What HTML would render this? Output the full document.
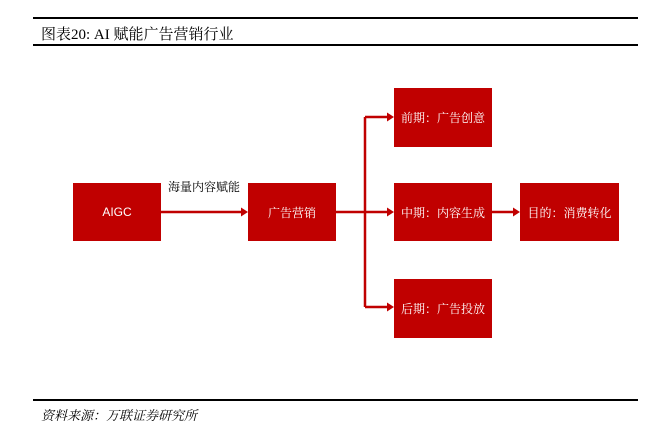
<!DOCTYPE html>
<html><head><meta charset="utf-8"><style>
body{margin:0;width:655px;height:441px;background:#fff;position:relative;overflow:hidden;font-family:"Liberation Serif","Noto Serif CJK SC",serif}
.l{position:absolute;left:33px;width:605px;background:#000}
.b{position:absolute;background:#c00000;color:#fff;display:flex;align-items:center;justify-content:center;font-size:12px;font-family:"Liberation Sans","Noto Serif CJK SC",sans-serif}
.t{position:absolute;white-space:nowrap}
</style></head><body>
<div class="l" style="top:17px;height:2px"></div>
<div class="t" style="left:41px;top:23px;font-size:15px">图表20: AI 赋能广告营销行业</div>
<div class="l" style="top:44px;height:2px"></div>
<svg style="position:absolute;left:0;top:0" width="655" height="441">
<g stroke="#c00000" stroke-width="2.5" fill="none">
<line x1="161" y1="212" x2="242" y2="212"/>
<line x1="336" y1="212" x2="388" y2="212"/>
<line x1="365" y1="117" x2="365" y2="307"/>
<line x1="365" y1="117" x2="388" y2="117"/>
<line x1="365" y1="307" x2="388" y2="307"/>
<line x1="492" y1="212" x2="514" y2="212"/>
</g>
<g fill="#c00000">
<polygon points="248,212 241,207.5 241,216.5"/>
<polygon points="394,212 387,207.5 387,216.5"/>
<polygon points="394,117 387,112.5 387,121.5"/>
<polygon points="394,307 387,302.5 387,311.5"/>
<polygon points="520,212 513,207.5 513,216.5"/>
</g>
</svg>
<div class="b" style="left:73px;top:183px;width:88px;height:58px">AIGC</div>
<div class="t" style="left:168px;top:178px;font-size:12px;font-family:'Liberation Sans','Noto Serif CJK SC',sans-serif">海量内容赋能</div>
<div class="b" style="left:248px;top:183px;width:88px;height:58px">广告营销</div>
<div class="b" style="left:394px;top:88px;width:98px;height:59px">前期：广告创意</div>
<div class="b" style="left:394px;top:183px;width:98px;height:58px">中期：内容生成</div>
<div class="b" style="left:394px;top:279px;width:98px;height:59px">后期：广告投放</div>
<div class="b" style="left:520px;top:183px;width:99px;height:58px">目的：消费转化</div>
<div class="l" style="top:399px;height:2px"></div>
<div class="t" style="left:41px;top:405px;font-size:13px;font-style:italic">资料来源：万联证券研究所</div>
</body></html>
